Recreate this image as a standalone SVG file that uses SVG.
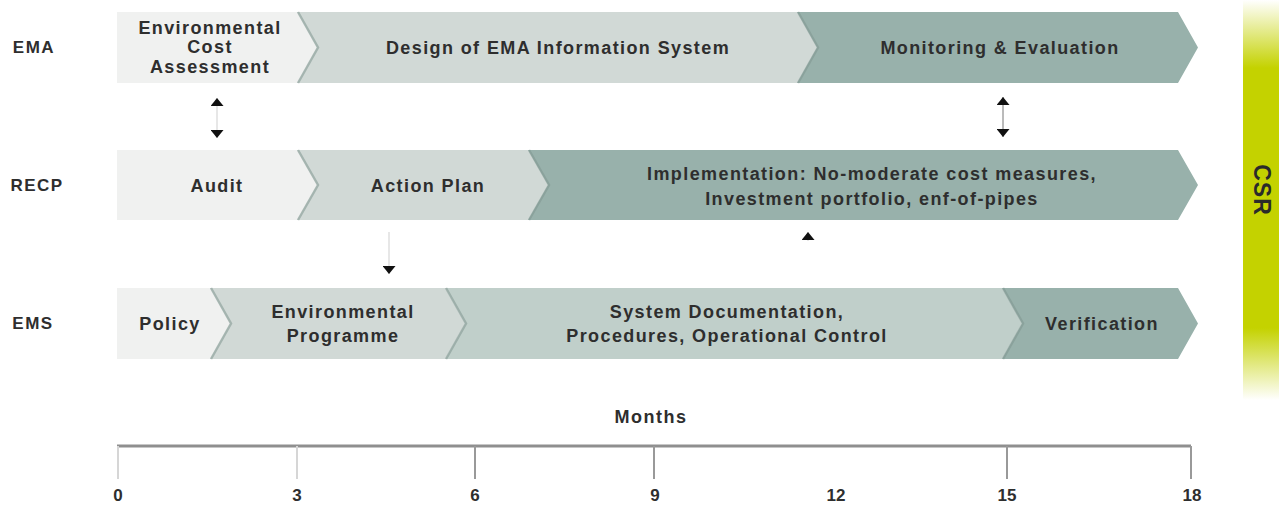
<svg xmlns="http://www.w3.org/2000/svg" width="1279" height="508" viewBox="0 0 1279 508">
<style>
.t{font-family:"Liberation Sans",Arial,sans-serif;font-weight:bold;font-size:18px;fill:#2e2e2e;letter-spacing:1.4px;text-anchor:middle}
.lbl{font-family:"Liberation Sans",Arial,sans-serif;font-weight:bold;font-size:17px;fill:#2e2e2e;letter-spacing:1.5px;text-anchor:middle}
.num{font-family:"Liberation Sans",Arial,sans-serif;font-weight:bold;font-size:17px;fill:#2e2e2e;text-anchor:middle}
.c1{fill:#f0f1f0}.c2{fill:#d1d9d6}.c3{fill:#c0cfca}.c4{fill:#98b1ab}
.edge{fill:none;stroke:#7f9590;stroke-opacity:0.55;stroke-width:2.5}
.conn{stroke:#cfcfcf;stroke-width:1;fill:none}
.conn2{stroke:#777;stroke-width:1;fill:none}
.tick{stroke:#999;stroke-width:2}
</style>
<defs>
<marker id="tri" markerUnits="userSpaceOnUse" markerWidth="8" markerHeight="13" viewBox="0 0 8 13" refX="8" refY="6.5" orient="auto-start-reverse">
<path d="M0,0 L8,6.5 L0,13 z" fill="#111"/>
</marker>
<linearGradient id="csr" x1="0" y1="0" x2="0" y2="1">
<stop offset="0" stop-color="#ffffff"/>
<stop offset="0.17" stop-color="#c4d200"/>
<stop offset="0.82" stop-color="#c4d200"/>
<stop offset="1" stop-color="#ffffff"/>
</linearGradient>
</defs>
<rect width="1279" height="508" fill="#ffffff"/>

<!-- CSR bar -->
<g id="csr-bar">
<rect x="1243" y="0" width="36" height="400" fill="url(#csr)"/>
<text class="t" style="font-size:23px;letter-spacing:1px;fill:#2a2a2a" dominant-baseline="central" transform="translate(1262,190) rotate(90)">CSR</text>
</g>

<!-- Row labels -->
<g id="label-ema"><text class="lbl" x="34" y="53">EMA</text></g>
<g id="label-recp"><text class="lbl" x="37" y="191">RECP</text></g>
<g id="label-ems"><text class="lbl" x="33" y="329">EMS</text></g>

<!-- EMA row -->
<g id="ema-cost">
<polygon class="c1" points="117,12 297,12 317,47.5 297,83 117,83"/>
<text class="t"><tspan x="210" y="34">Environmental</tspan><tspan x="210" y="53">Cost</tspan><tspan x="210" y="73">Assessment</tspan></text>
</g>
<g id="ema-design">
<polygon class="c2" points="297,12 797,12 817,47.5 797,83 297,83 317,47.5"/>
<polyline class="edge" points="298,12 318,47.5 298,83"/>
<text class="t" x="558" y="54">Design of EMA Information System</text>
</g>
<g id="ema-monitor">
<polygon class="c4" points="797,12 1178,12 1198,47.5 1178,83 797,83 817,47.5"/>
<polyline class="edge" points="798,12 818,47.5 798,83"/>
<text class="t" x="1000" y="54">Monitoring &amp; Evaluation</text>
</g>

<!-- RECP row -->
<g id="recp-audit">
<polygon class="c1" points="117,150 297,150 317,185 297,220 117,220"/>
<text class="t" x="217" y="192">Audit</text>
</g>
<g id="recp-action">
<polygon class="c2" points="297,150 528,150 548,185 528,220 297,220 317,185"/>
<polyline class="edge" points="298,150 318,185 298,220"/>
<text class="t" x="428" y="192">Action Plan</text>
</g>
<g id="recp-impl">
<polygon class="c4" points="528,150 1178,150 1198,185 1178,220 528,220 548,185"/>
<polyline class="edge" points="529,150 549,185 529,220"/>
<text class="t"><tspan x="872" y="180">Implementation: No-moderate cost measures,</tspan><tspan x="872" y="205">Investment portfolio, enf-of-pipes</tspan></text>
</g>

<!-- EMS row -->
<g id="ems-policy">
<polygon class="c1" points="117,288 210,288 230,323.5 210,359 117,359"/>
<text class="t" x="170" y="330">Policy</text>
</g>
<g id="ems-programme">
<polygon class="c2" points="210,288 445,288 465,323.5 445,359 210,359 230,323.5"/>
<polyline class="edge" points="211,288 231,323.5 211,359"/>
<text class="t"><tspan x="343" y="318">Environmental</tspan><tspan x="343" y="342">Programme</tspan></text>
</g>
<g id="ems-docs">
<polygon class="c3" points="445,288 1002,288 1022,323.5 1002,359 445,359 465,323.5"/>
<polyline class="edge" points="446,288 466,323.5 446,359"/>
<text class="t"><tspan x="727" y="318">System Documentation,</tspan><tspan x="727" y="342">Procedures, Operational Control</tspan></text>
</g>
<g id="ems-verification">
<polygon class="c4" points="1002,288 1178,288 1198,323.5 1178,359 1002,359 1022,323.5"/>
<polyline class="edge" points="1003,288 1023,323.5 1003,359"/>
<text class="t" x="1102" y="330">Verification</text>
</g>

<!-- Connectors -->
<g id="connectors">
<line class="conn" x1="217" y1="98" x2="217" y2="138" marker-start="url(#tri)" marker-end="url(#tri)"/>
<line class="conn2" x1="1003" y1="97" x2="1003" y2="137" marker-start="url(#tri)" marker-end="url(#tri)"/>
<line class="conn" x1="389" y1="232" x2="389" y2="274" marker-end="url(#tri)"/>
<line class="conn" x1="808" y1="241" x2="808" y2="232" marker-end="url(#tri)"/>
</g>

<!-- Axis -->
<g id="axis">
<text class="num" style="font-size:18px;letter-spacing:1.5px" x="651" y="423">Months</text>
<line x1="117" y1="446" x2="1191" y2="446" stroke="#8f8f8f" stroke-width="3"/>
<line class="tick" style="stroke:#d6d6d6" x1="118" y1="446" x2="118" y2="479"/>
<line class="tick" style="stroke:#d6d6d6" x1="297" y1="446" x2="297" y2="479"/>
<line class="tick" x1="475" y1="446" x2="475" y2="479"/>
<line class="tick" x1="654" y1="446" x2="654" y2="479"/>
<line class="tick" x1="1007" y1="446" x2="1007" y2="479"/>
<line class="tick" x1="1191" y1="446" x2="1191" y2="479"/>
<text class="num" x="118" y="501">0</text>
<text class="num" x="297" y="501">3</text>
<text class="num" x="475" y="501">6</text>
<text class="num" x="655" y="501">9</text>
<text class="num" x="836" y="501">12</text>
<text class="num" x="1007" y="501">15</text>
<text class="num" x="1192" y="501">18</text>
</g>
</svg>
